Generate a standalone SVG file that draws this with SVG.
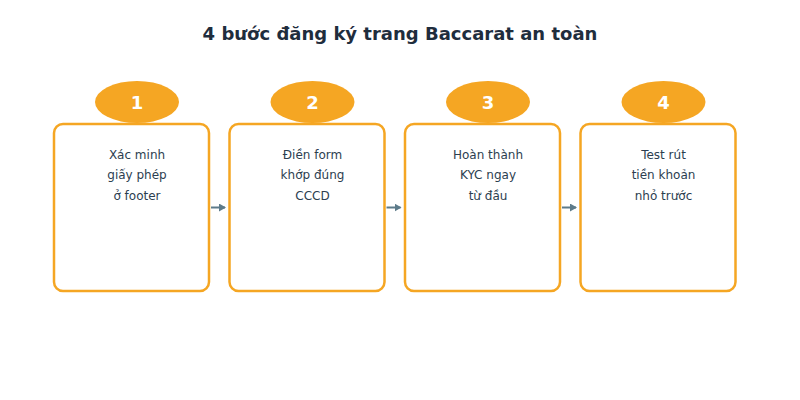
<svg xmlns="http://www.w3.org/2000/svg" width="800" height="400" viewBox="0 0 800 400">
<defs>
<style>
.title{font-family:"DejaVu Sans",sans-serif;font-size:18px;font-weight:bold;fill:#1f2d3d;text-anchor:middle}
.box{fill:#fff;stroke:#f5a623;stroke-width:2.5}
.badge{fill:#f5a623}
.num{font-family:"DejaVu Sans",sans-serif;font-size:18px;font-weight:bold;fill:#fff;text-anchor:middle}
.lbl{font-family:"DejaVu Sans",sans-serif;font-size:12px;fill:#2c3e50;text-anchor:middle}
.conn{stroke:#5d7b8a;stroke-width:2;fill:none}
</style>
<marker id="ah" markerWidth="8" markerHeight="8" refX="6" refY="4" orient="auto" markerUnits="userSpaceOnUse">
<path d="M0,0 L7,4 L0,8 z" fill="#5d7b8a"/>
</marker>
</defs>
<rect width="800" height="400" fill="#fff"/>
<text class="title" x="400" y="39.5">4 bước đăng ký trang Baccarat an toàn</text>
<g id="connectors">
<line class="conn" x1="211" y1="207.5" x2="225" y2="207.5" marker-end="url(#ah)"/>
<line class="conn" x1="386.5" y1="207.5" x2="400.5" y2="207.5" marker-end="url(#ah)"/>
<line class="conn" x1="562" y1="207.5" x2="576" y2="207.5" marker-end="url(#ah)"/>
</g>
<g id="step1">
<rect class="box" x="54" y="124" width="155" height="167" rx="9"/>
<ellipse class="badge" cx="137" cy="102" rx="42" ry="21"/>
<text class="num" x="137" y="108.5">1</text>
<text class="lbl" x="137" y="158.5">Xác minh</text>
<text class="lbl" x="137" y="179">giấy phép</text>
<text class="lbl" x="137" y="199.5">ở footer</text>
</g>
<g id="step2">
<rect class="box" x="229.5" y="124" width="155" height="167" rx="9"/>
<ellipse class="badge" cx="312.5" cy="102" rx="42" ry="21"/>
<text class="num" x="312.5" y="108.5">2</text>
<text class="lbl" x="312.5" y="158.5">Điền form</text>
<text class="lbl" x="312.5" y="179">khớp đúng</text>
<text class="lbl" x="312.5" y="199.5">CCCD</text>
</g>
<g id="step3">
<rect class="box" x="405" y="124" width="155" height="167" rx="9"/>
<ellipse class="badge" cx="488" cy="102" rx="42" ry="21"/>
<text class="num" x="488" y="108.5">3</text>
<text class="lbl" x="488" y="158.5">Hoàn thành</text>
<text class="lbl" x="488" y="179">KYC ngay</text>
<text class="lbl" x="488" y="199.5">từ đầu</text>
</g>
<g id="step4">
<rect class="box" x="580.5" y="124" width="155" height="167" rx="9"/>
<ellipse class="badge" cx="663.5" cy="102" rx="42" ry="21"/>
<text class="num" x="663.5" y="108.5">4</text>
<text class="lbl" x="663.5" y="158.5">Test rút</text>
<text class="lbl" x="663.5" y="179">tiền khoản</text>
<text class="lbl" x="663.5" y="199.5">nhỏ trước</text>
</g>
</svg>
